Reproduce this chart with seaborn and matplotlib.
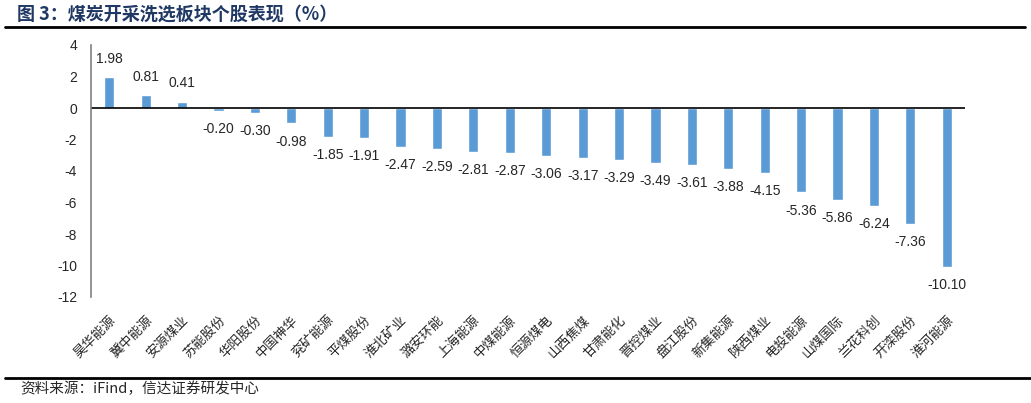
import pandas as pd
import numpy as np
import seaborn as sns
import matplotlib.pyplot as plt
from matplotlib.lines import Line2D

stocks = ["昊华能源", "冀中能源", "安源煤业", "苏能股份", "华阳股份", "中国神华",
          "兖矿能源", "平煤股份", "淮北矿业", "潞安环能", "上海能源", "中煤能源",
          "恒源煤电", "山西焦煤", "甘肃能化", "晋控煤业", "盘江股份", "新集能源",
          "陕西煤业", "电投能源", "山煤国际", "兰花科创", "开滦股份", "淮河能源"]
changes = [1.98, 0.81, 0.41, -0.20, -0.30, -0.98, -1.85, -1.91, -2.47, -2.59,
           -2.81, -2.87, -3.06, -3.17, -3.29, -3.49, -3.61, -3.88, -4.15, -5.36,
           -5.86, -6.24, -7.36, -10.10]
yticks = [4, 2, 0, -2, -4, -6, -8, -10, -12]

title = "图 3：煤炭开采洗选板块个股表现（%）"
source = "资料来源：iFind，信达证券研发中心"

sns.set_style("white")
plt.rcParams['font.family'] = ['Liberation Sans', 'Noto Sans CJK SC', 'DejaVu Sans']

df = pd.DataFrame({"stock": stocks, "change": changes})

fig = plt.figure(figsize=(10.31, 4.03), dpi=100)
ax = fig.add_axes([91/1031, 106/403, 874/1031, 252/403])

sns.barplot(data=df, x="stock", y="change", color="#5B9BD5", saturation=1,
            width=0.28, ax=ax)

ax.set_xlim(-0.5, len(stocks) - 0.5)
ax.set_ylim(-12, 4)
ax.set_yticks(yticks)
ax.set_yticklabels([str(t) for t in yticks], fontsize=10)
ax.tick_params(axis='y', length=0, pad=10)
ax.tick_params(axis='x', length=0, pad=12)
ax.set_xticks(range(len(stocks)))
ax.set_xticklabels(stocks, rotation=45, ha='right', rotation_mode='anchor',
                   fontsize=9.5, family=['Noto Sans CJK SC', 'DejaVu Sans'])
ax.set_xlabel("")
ax.set_ylabel("")

for s in ["top", "right", "bottom"]:
    ax.spines[s].set_visible(False)
ax.spines["left"].set_color("#808080")
ax.spines["left"].set_linewidth(1.2)
ax.axhline(0, color="black", linewidth=1.2)

ax.bar_label(ax.containers[0], labels=[f"{v:.2f}" for v in changes],
             padding=8, fontsize=10)

fig.text(17/1031, 1 - 14/403, title, fontsize=13, fontweight='bold',
         color="#1F3864", va='center', ha='left',
         family=['Noto Sans CJK SC', 'DejaVu Sans'])
fig.add_artist(Line2D([5/1031, 1025/1031], [1 - 27/403, 1 - 27/403],
                      color="black", linewidth=2))
fig.add_artist(Line2D([5/1031, 1], [1 - 378/403, 1 - 378/403],
                      color="black", linewidth=2))
fig.text(20/1031, 1 - 389/403, source, fontsize=10.5, style='italic',
         va='center', ha='left', family=['Noto Sans CJK SC', 'DejaVu Sans'])

fig.savefig("out.png", dpi=100)
